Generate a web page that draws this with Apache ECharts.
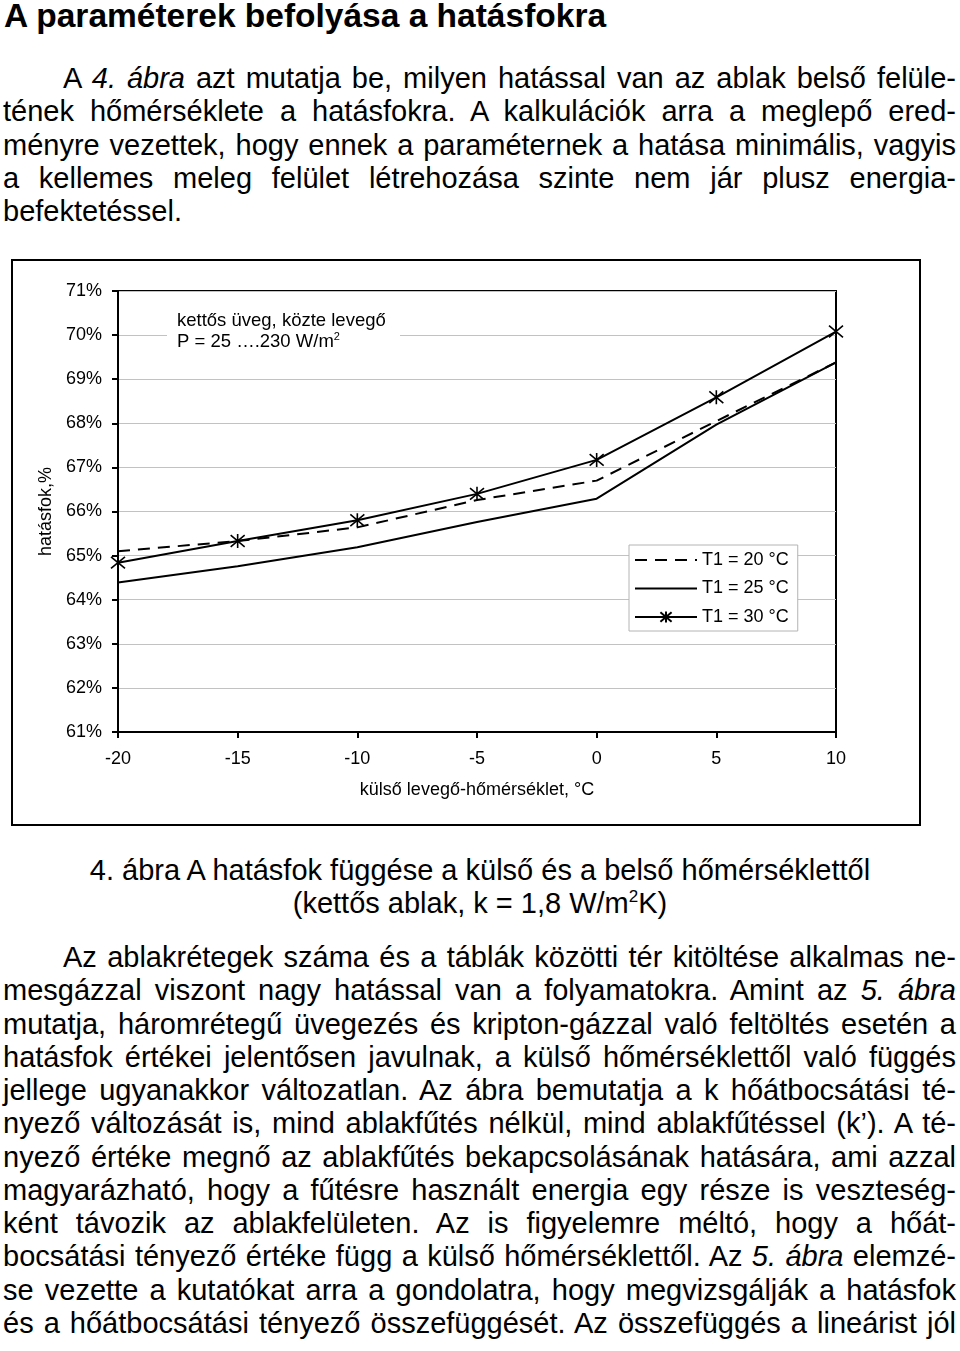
<!DOCTYPE html>
<html>
<head>
<meta charset="utf-8">
<script src="https://cdn.jsdelivr.net/npm/echarts@6/dist/echarts.min.js"></script>
<style>
  html, body { margin: 0; padding: 0; background: #fff; }
  body { width: 960px; height: 1351px; position: relative; overflow: hidden;
         font-family: "Liberation Sans", Arial, sans-serif; color: #000; }
  .blk { position: absolute; left: 3px; width: 953px; font-size: 29px; }
  .ln { height: 33.25px; line-height: 33.25px; text-align: justify; text-align-last: justify; }
  .ln.last { text-align: left; text-align-last: left; }
  .ind { padding-left: 60px; }
  h1 { position: absolute; left: 4px; top: -3px; margin: 0; font-size: 33.5px; line-height: 38px; font-weight: bold; }
  .cap { position: absolute; left: 0; width: 960px; top: 854px; font-size: 29px; text-align: center; }
  .cap div { height: 33.25px; line-height: 33.25px; }
  sup { font-size: 17px; line-height: 0; }
  #charts { position: absolute; left: 0; top: 240px; width: 960px; height: 600px; }
</style>
</head>
<body>
<h1>A paraméterek befolyása a hatásfokra</h1>
<div class="blk" style="top:62px">
  <div class="ln ind">A <i>4. ábra</i> azt mutatja be, milyen hatással van az ablak belső felüle-</div>
  <div class="ln">tének hőmérséklete a hatásfokra. A kalkulációk arra a meglepő ered-</div>
  <div class="ln">ményre vezettek, hogy ennek a paraméternek a hatása minimális, vagyis</div>
  <div class="ln">a kellemes meleg felület létrehozása szinte nem jár plusz energia-</div>
  <div class="ln last">befektetéssel.</div>
</div>
<div id="charts"></div>
<div class="cap">
  <div>4. ábra A hatásfok függése a külső és a belső hőmérséklettől</div>
  <div>(kettős ablak, k = 1,8 W/m<sup>2</sup>K)</div>
</div>
<div class="blk" style="top:941px">
  <div class="ln ind">Az ablakrétegek száma és a táblák közötti tér kitöltése alkalmas ne-</div>
  <div class="ln">mesgázzal viszont nagy hatással van a folyamatokra. Amint az <i>5. ábra</i></div>
  <div class="ln">mutatja, háromrétegű üvegezés és kripton-gázzal való feltöltés esetén a</div>
  <div class="ln">hatásfok értékei jelentősen javulnak, a külső hőmérséklettől való függés</div>
  <div class="ln">jellege ugyanakkor változatlan. Az ábra bemutatja a k hőátbocsátási té-</div>
  <div class="ln">nyező változását is, mind ablakfűtés nélkül, mind ablakfűtéssel (k’). A té-</div>
  <div class="ln">nyező értéke megnő az ablakfűtés bekapcsolásának hatására, ami azzal</div>
  <div class="ln">magyarázható, hogy a fűtésre használt energia egy része is veszteség-</div>
  <div class="ln">ként távozik az ablakfelületen. Az is figyelemre méltó, hogy a hőát-</div>
  <div class="ln">bocsátási tényező értéke függ a külső hőmérséklettől. Az <i>5. ábra</i> elemzé-</div>
  <div class="ln">se vezette a kutatókat arra a gondolatra, hogy megvizsgálják a hatásfok</div>
  <div class="ln">és a hőátbocsátási tényező összefüggését. Az összefüggés a lineárist jól</div>
</div>
<script>
// outside air temperature, °C
const outsideTemps = [-20, -15, -10, -5, 0, 5, 10];
// efficiency in %, one list per inner surface temperature
const effT20 = [65.10, 65.33, 65.64, 66.26, 66.70, 68.05, 69.38];
const effT25 = [64.39, 64.76, 65.19, 65.76, 66.29, 67.97, 69.38];
const effT30 = [64.84, 65.33, 65.80, 66.40, 67.17, 68.59, 70.08];
const seriesNames = ['T1 = 20 °C', 'T1 = 25 °C', 'T1 = 30 °C'];

const font = '"Liberation Sans", Arial, sans-serif';
const starPath = 'path://M0,0L10,10M10,0L0,10M5,-1L5,11';
const noFill = 'rgba(0,0,0,0)';

const toPoints = vals => outsideTemps.map((x, i) => [x, vals[i]]);

var chartDom = document.getElementById('charts');
var myChart = echarts.init(chartDom);
var option = {
    animation: false,
    textStyle: {fontFamily: font, color: '#000'},
    grid: {
        left: 118, top: 51, right: 124, bottom: 108,
        show: true, borderColor: '#000', borderWidth: 2
    },
    xAxis: {
        type: 'value', min: -20, max: 10, interval: 5,
        name: 'külső levegő-hőmérséklet, °C',
        nameLocation: 'middle', nameGap: 49,
        nameTextStyle: {fontSize: 18, color: '#000', fontFamily: font},
        axisLine: {onZero: false, lineStyle: {color: '#000', width: 2}},
        axisTick: {length: 6, lineStyle: {color: '#000', width: 2}},
        axisLabel: {fontSize: 18, color: '#000', margin: 18, fontFamily: font},
        splitLine: {show: false}
    },
    yAxis: {
        type: 'value', min: 61, max: 71, interval: 1,
        name: 'hatásfok,%',
        nameLocation: 'middle', nameGap: 61,
        nameTextStyle: {fontSize: 18, color: '#000', fontFamily: font},
        axisLine: {show: true, onZero: false, lineStyle: {color: '#000', width: 2}},
        axisTick: {show: true, length: 6, lineStyle: {color: '#000', width: 2}},
        axisLabel: {fontSize: 18, color: '#000', margin: 16, formatter: '{value}%', fontFamily: font},
        splitLine: {lineStyle: {color: '#c2c2c2', width: 1}}
    },
    legend: {
        orient: 'vertical', left: 629, top: 305,
        data: seriesNames,
        padding: [6, 9, 5, 5],
        itemWidth: 62, itemHeight: 14, itemGap: 10.5,
        backgroundColor: '#fff', borderColor: '#b4b4b4', borderWidth: 1,
        textStyle: {fontSize: 18, color: '#000', fontFamily: font}
    },
    graphic: [
        {
            type: 'rect', silent: true, z: 0,
            shape: {x: 12, y: 20, width: 908, height: 565},
            style: {fill: null, stroke: '#000', lineWidth: 2}
        },
        {
            type: 'rect', silent: true, z: 50,
            shape: {x: 167, y: 66, width: 233, height: 48},
            style: {fill: '#fff'}
        },
        {
            type: 'text', silent: true, z: 51, left: 177, top: 70,
            style: {
                text: 'kettős üveg, közte levegő\nP = 25 \u2026.230 W/m{sup|2}',
                font: '18.5px ' + font, fill: '#000', lineHeight: 21.5,
                rich: {sup: {fontSize: 11, verticalAlign: 'top', lineHeight: 12, fill: '#000'}}
            }
        }
    ],
    series: [
        {
            name: seriesNames[0], type: 'line', data: toPoints(effT20),
            symbol: 'none', z: 3,
            lineStyle: {color: '#000', width: 2, type: [12, 8]},
            itemStyle: {color: noFill}
        },
        {
            name: seriesNames[1], type: 'line', data: toPoints(effT25),
            symbol: 'none', z: 3,
            lineStyle: {color: '#000', width: 2},
            itemStyle: {color: noFill}
        },
        {
            name: seriesNames[2], type: 'line', data: toPoints(effT30),
            symbol: starPath, symbolSize: 14, showAllSymbol: true, z: 4,
            lineStyle: {color: '#000', width: 2},
            itemStyle: {color: '#000', borderColor: '#000', borderWidth: 1.6}
        }
    ]
};
myChart.setOption(option);
</script>
</body>
</html>
